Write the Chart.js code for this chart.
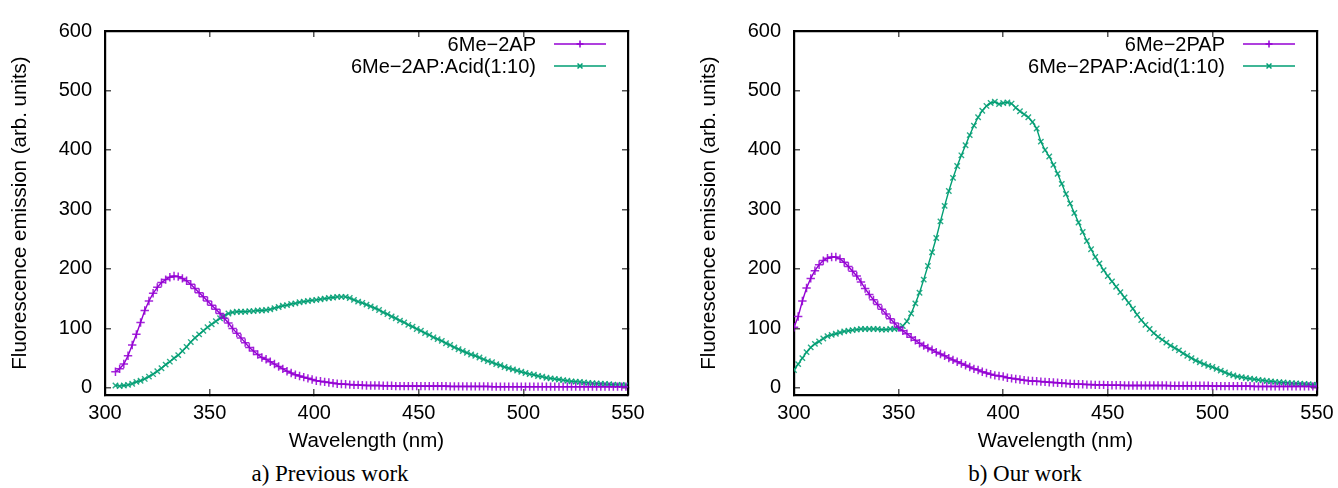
<!DOCTYPE html>
<html>
<head>
<meta charset="utf-8">
<script src="https://cdn.jsdelivr.net/npm/chart.js@4.4.0/dist/chart.umd.min.js"></script>
<style>
    body { margin: 0; background: #fff; width: 1338px; height: 488px; position: relative; overflow: hidden; }
    .panel { position: absolute; top: 0; width: 660px; height: 460px; }
    .caption { position: absolute; top: 461px; width: 660px; text-align: center;
               font-family: "Liberation Serif", serif; font-size: 23px; line-height: 26px; color: #000; }
</style>
</head>
<body>
<div class="panel" style="left:0"><canvas id="chartPrev" width="660" height="460"></canvas></div>
<div class="panel" style="left:689px"><canvas id="chartOurs" width="660" height="460"></canvas></div>
<div class="caption" style="left:0">a) Previous work</div>
<div class="caption" style="left:695px">b) Our work</div>

<script>
// Axis ticks (same for both panels)
const xTicks = [300, 350, 400, 450, 500, 550];
const yTicks = [0, 100, 200, 300, 400, 500, 600];

// Panel a) sampled every 2 nm starting at 305 nm
const prevStart = 305;
const prevLabels = ['6Me\u22122AP', '6Me\u22122AP:Acid(1:10)'];
const prevBase = [
    27, 32, 40, 54, 72, 90, 110, 130, 146, 159,
    169, 177, 182, 186, 188, 187, 184, 180, 174, 167,
    160, 153, 146, 139, 132, 125, 117, 109, 100, 92,
    84, 76, 68, 62, 56, 51, 48, 44, 40, 36,
    32, 28, 25, 22, 20, 18, 16, 14, 12, 11,
    10, 9, 8, 7, 6.5, 6, 5.5, 5, 5, 4.5,
    4, 4, 4, 4, 3.5, 3.5, 3.5, 3, 3, 3,
    3, 3, 3, 3, 3, 3, 3, 3, 3, 3,
    2.5, 2.5, 2.5, 2.5, 2.5, 2.5, 2.5, 2.5, 2.5, 2.5,
    2, 2, 2, 2, 2, 2, 2, 2, 2, 2,
    2, 2, 2, 2, 2, 2, 2, 2, 2, 2,
    2, 2, 2, 2, 2, 2, 2, 2, 2, 2,
    2, 2, 2
];
const prevAcid = [
    4, 3, 4, 5, 7, 10, 12, 15, 19, 23,
    28, 33, 39, 44, 50, 55, 62, 69, 77, 84,
    90, 96, 102, 107, 112, 117, 121, 125, 127, 128,
    128, 128, 129, 129, 130, 130, 131, 132, 134, 136,
    138, 139, 141, 142, 144, 145, 146, 147, 148, 149,
    150, 151, 152, 153, 153, 153, 151, 148, 145, 143,
    140, 137, 134, 131, 127, 124, 120, 117, 113, 110,
    106, 103, 99, 96, 92, 89, 85, 82, 79, 75,
    72, 68, 65, 62, 59, 56, 54, 51, 48, 45,
    43, 40, 38, 35, 33, 31, 29, 27, 25, 23,
    22, 20, 19, 17, 16, 15, 14, 13, 12, 11,
    10.5, 10, 9, 8.5, 8, 7.5, 7, 6.5, 6, 5.5,
    5, 5, 4.5
];

// Panel b) sampled every 2 nm starting at 300 nm
const oursStart = 300;
const oursLabels = ['6Me\u22122PAP', '6Me\u22122PAP:Acid(1:10)'];
const oursBase = [
    102, 120, 146, 168, 184, 197, 207, 214, 218, 220,
    220, 217, 211, 204, 196, 188, 178, 167, 157, 148,
    140, 132, 124, 116, 109, 102, 96, 91, 85, 80,
    75, 71, 67, 64, 60, 57, 54, 50, 47, 44,
    41, 38, 35, 32, 30, 27, 25, 23, 21, 20,
    19, 17, 16, 15, 14, 13, 12, 11.5, 11, 10.5,
    10, 9.5, 9, 8.5, 8, 7.5, 7, 6.5, 6, 6,
    5.5, 5.5, 5, 5, 5, 4.5, 4.5, 4.5, 4.5, 4,
    4, 4, 4, 4, 4, 4, 4, 4, 4, 4,
    3.5, 3.5, 3.5, 3.5, 3.5, 3.5, 3.5, 3.5, 3.5, 3.5,
    3, 3, 3, 3, 3, 3, 3, 3, 3, 3,
    2.5, 2.5, 2.5, 2.5, 2.5, 2.5, 2.5, 2.5, 2.5, 2.5,
    2.5, 2.5, 2.5, 2.5, 2.5, 2.5
];
const oursAcid = [
    30, 40, 50, 60, 68, 74, 78, 83, 87, 89,
    91, 93, 95, 96, 97, 98, 99, 99, 99, 99,
    99, 98, 98, 99, 99, 100, 104, 112, 125, 142,
    160, 182, 205, 228, 252, 280, 306, 331, 353, 373,
    391, 408, 425, 441, 455, 466, 474, 479, 481, 477,
    479, 480, 478, 471, 465, 460, 455, 447, 436, 414,
    400, 389, 375, 360, 343, 326, 310, 294, 278, 262,
    247, 233, 220, 209, 198, 188, 179, 170, 161, 152,
    143, 133, 123, 114, 106, 99, 92, 86, 81, 76,
    71, 67, 63, 58, 54, 50, 46, 43, 40, 37,
    35, 32, 29, 26, 23, 21, 19, 18, 16.5, 15.5,
    14.5, 13.5, 12.5, 11.5, 11, 10, 9.5, 9, 8.5, 8,
    7.5, 7, 6.5, 6, 5.5, 5
];

const purple = '#9400D3';
const green = '#009E73';
const step = 2;

// pair each value with its wavelength
function toPoints(start, values) {
    return values.map((v, i) => ({ x: start + i * step, y: v }));
}

// gnuplot style key: right aligned text, then a line sample with its marker
const gnuplotKey = {
    id: 'gnuplotKey',
    afterDatasetsDraw(chart) {
        const { ctx, chartArea } = chart;
        ctx.save();
        chart.data.datasets.forEach((ds, i) => {
            const y = chartArea.top + 13 + i * 22;
            const x0 = chartArea.right - 74;
            const x1 = chartArea.right - 22;
            ctx.font = '20px "Liberation Sans", Arial, sans-serif';
            ctx.fillStyle = '#000';
            ctx.textAlign = 'right';
            ctx.textBaseline = 'middle';
            ctx.fillText(ds.label, chartArea.right - 92, y + 1);
            ctx.strokeStyle = ds.borderColor;
            ctx.lineWidth = 1.5;
            ctx.beginPath();
            ctx.moveTo(x0, y);
            ctx.lineTo(x1, y);
            ctx.stroke();
            Chart.helpers.drawPoint(ctx, {
                pointStyle: ds.pointStyle, radius: 3.5,
                borderWidth: 1.2
            }, (x0 + x1) / 2, y);
        });
        ctx.restore();
    }
};

function buildChart(canvasId, start, labels, base, acid) {
    const tickFont = { family: '"Liberation Sans", Arial, sans-serif', size: 20 };
    const titleFont = { family: '"Liberation Sans", Arial, sans-serif', size: 20.5 };
    const tickGrid = { drawOnChartArea: false, color: '#555', lineWidth: 1.5, tickLength: -6 };
    const frame = { display: true, color: '#000', width: 2.2 };

    new Chart(document.getElementById(canvasId), {
        type: 'line',
        data: {
            datasets: [
                {
                    label: labels[0],
                    data: toPoints(start, base),
                    borderColor: purple,
                    backgroundColor: purple,
                    borderWidth: 1.4,
                    pointStyle: 'cross',
                    pointRadius: 4.2,
                    pointBorderWidth: 1.5,
                    pointBorderColor: 'rgba(148, 0, 211, 0.85)',
                    tension: 0
                },
                {
                    label: labels[1],
                    data: toPoints(start, acid),
                    borderColor: green,
                    backgroundColor: green,
                    borderWidth: 1.4,
                    pointStyle: 'crossRot',
                    pointRadius: 3.8,
                    pointBorderWidth: 1.4,
                    pointBorderColor: 'rgba(0, 158, 115, 0.85)',
                    tension: 0
                }
            ]
        },
        options: {
            responsive: false,
            animation: false,
            devicePixelRatio: 1,
            layout: { padding: { top: 25, right: 32, left: 0, bottom: 0 } },
            plugins: { legend: { display: false }, tooltip: { enabled: false } },
            scales: {
                x: {
                    type: 'linear', position: 'bottom', min: 300, max: 550,
                    afterBuildTicks: s => { s.ticks = xTicks.map(v => ({ value: v })); },
                    afterFit: s => { s.height = 65; },
                    grid: tickGrid, border: frame,
                    ticks: { font: tickFont, color: '#000', padding: 12, maxRotation: 0 },
                    title: { display: true, text: 'Wavelength (nm)', font: titleFont, color: '#000',
                             padding: { top: 0, bottom: 6 } }
                },
                x2: {
                    type: 'linear', position: 'top', min: 300, max: 550,
                    afterBuildTicks: s => { s.ticks = xTicks.map(v => ({ value: v })); },
                    afterFit: s => { s.height = 0; },
                    grid: tickGrid, border: frame,
                    ticks: { display: false }
                },
                y: {
                    type: 'linear', position: 'left', min: -12, max: 600,
                    afterBuildTicks: s => { s.ticks = yTicks.map(v => ({ value: v })); },
                    afterFit: s => { s.width = 105; },
                    grid: tickGrid, border: frame,
                    ticks: { font: tickFont, color: '#000', padding: 19 },
                    title: { display: true, text: 'Fluorescence emission (arb. units)', font: titleFont,
                             color: '#000', padding: { top: 8, bottom: 0 } }
                },
                y2: {
                    type: 'linear', position: 'right', min: -12, max: 600,
                    afterBuildTicks: s => { s.ticks = yTicks.map(v => ({ value: v })); },
                    afterFit: s => { s.width = 0; },
                    grid: tickGrid, border: frame,
                    ticks: { display: false }
                }
            }
        },
        plugins: [gnuplotKey]
    });
}

buildChart('chartPrev', prevStart, prevLabels, prevBase, prevAcid);
buildChart('chartOurs', oursStart, oursLabels, oursBase, oursAcid);
</script>
</body>
</html>
